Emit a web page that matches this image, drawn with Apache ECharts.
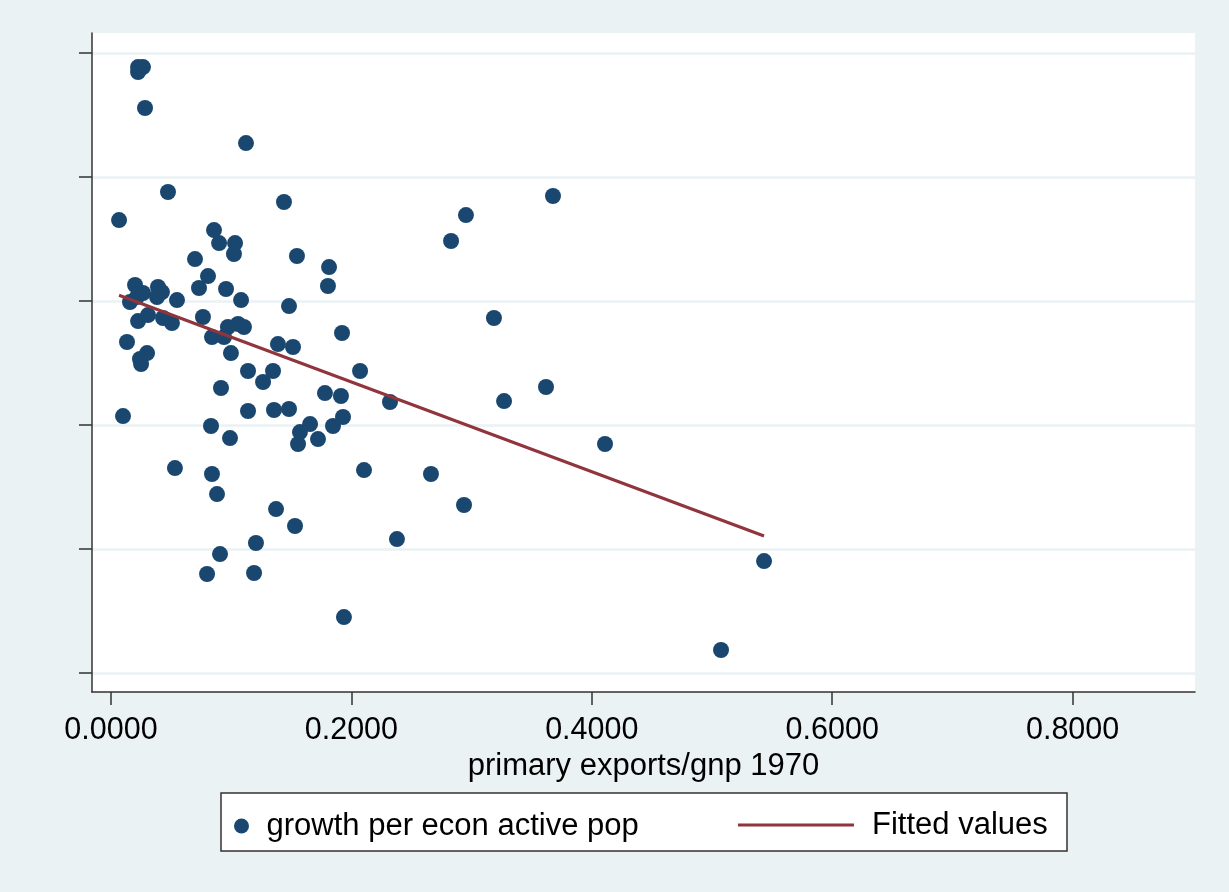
<!DOCTYPE html>
<html>
<head>
<meta charset="utf-8">
<script src="https://cdn.jsdelivr.net/npm/echarts@6/dist/echarts.min.js"></script>
<style>
  html, body { margin: 0; padding: 0; background: #eaf2f3; }
  #chart { width: 1229px; height: 892px; }
</style>
</head>
<body>
<div id="chart"></div>
<script>
// Primary exports as a share of GNP, 1970 (one entry per country)
const primaryExports = [
  0.0067, 0.0100, 0.0133, 0.0158, 0.0200, 0.0216, 0.0225, 0.0225, 0.0266, 0.0225,
  0.0283, 0.0241, 0.0250, 0.0300, 0.0266, 0.0308, 0.0391, 0.0424, 0.0383, 0.0433,
  0.0507, 0.0474, 0.0549, 0.0532, 0.0699, 0.0732, 0.0765, 0.0807, 0.0832, 0.0840,
  0.0840, 0.0857, 0.0882, 0.0899, 0.0915, 0.0907, 0.0799, 0.0940, 0.0957, 0.0973,
  0.0990, 0.0998, 0.1032, 0.1023, 0.1057, 0.1082, 0.1106, 0.1123, 0.1140, 0.1140,
  0.1206, 0.1190, 0.1265, 0.1348, 0.1356, 0.1373, 0.1389, 0.1439, 0.1481, 0.1481,
  0.1514, 0.1531, 0.1547, 0.1572, 0.1556, 0.1656, 0.1722, 0.1780, 0.1814, 0.1805,
  0.1847, 0.1913, 0.1922, 0.1930, 0.1938, 0.2072, 0.2105, 0.2321, 0.2379, 0.2662,
  0.2829, 0.2937, 0.2953, 0.3186, 0.3270, 0.3619, 0.3677, 0.4110, 0.5075, 0.5433
];

// Growth per economically active population (same country order)
const growthPerActive = [
  3.306, 0.145, 1.339, 1.984, 2.258, 2.065, 1.677, 5.774, 5.774, 5.694,
  5.113, 1.065, 0.984, 1.161, 2.129, 1.774, 2.226, 2.145, 2.065, 1.726,
  1.645, 3.758, 2.016, -0.694, 2.677, 2.210, 1.742, 2.403, -0.016, 1.419,
  -0.790, 3.145, -1.113, 2.935, 0.597, -2.081, -2.403, 1.419, 2.194, 1.581,
  -0.210, 1.161, 2.935, 2.758, 1.629, 2.016, 1.581, 4.548, 0.871, 0.226,
  -1.903, -2.387, 0.694, 0.871, 0.242, -1.355, 1.306, 3.597, 1.919, 0.258,
  1.258, -1.629, 2.726, -0.113, -0.306, 0.016, -0.226, 0.516, 2.548, 2.242,
  -0.016, 0.468, 1.484, 0.129, -3.097, 0.871, -0.726, 0.371, -1.839, -0.790,
  2.968, -1.290, 3.387, 1.726, 0.387, 0.613, 3.694, -0.306, -3.629, -2.194
];

// Least-squares fit, evaluated at the smallest and largest export share
const fitX = [0.0067, 0.5433];
const fitY = [2.093, -1.790];

// Axis tick positions
const xTicks = [0, 0.2, 0.4, 0.6, 0.8];
const yTicks = [-4, -2, 0, 2, 4, 6];

const seriesNames = ['growth per econ active pop', 'Fitted values'];

const scatterData = primaryExports.map((x, i) => [x, growthPerActive[i]]);
const fitData = fitX.map((x, i) => [x, fitY[i]]);

const FONT = '"Liberation Sans", Arial, Helvetica, sans-serif';
const NAVY = '#1a476f';
const MAROON = '#90353b';
const AXIS = '#333333';

const chart = echarts.init(document.getElementById('chart'), null, { renderer: 'canvas' });

chart.setOption({
  animation: false,
  backgroundColor: '#eaf2f3',
  textStyle: { fontFamily: FONT },
  grid: {
    left: 92, right: 34, top: 33, bottom: 200,
    show: true, backgroundColor: '#ffffff', borderWidth: 0
  },
  xAxis: {
    type: 'value',
    min: -0.01581, max: 0.90183,
    name: 'primary exports/gnp 1970',
    nameLocation: 'middle',
    nameGap: 67,
    nameTextStyle: { fontFamily: FONT, fontSize: 31, color: '#000', verticalAlign: 'middle', lineHeight: 31 },
    axisLine: { show: true, onZero: false, lineStyle: { color: AXIS, width: 1.5 } },
    axisTick: { show: true, length: 13, customValues: xTicks, lineStyle: { color: AXIS, width: 1.5 } },
    axisLabel: {
      customValues: xTicks,
      margin: 39,
      fontFamily: FONT, fontSize: 30.5, color: '#000',
      verticalAlign: 'middle', lineHeight: 30,
      formatter: v => v.toFixed(4)
    },
    splitLine: { show: false }
  },
  yAxis: {
    type: 'value',
    min: -4.306, max: 6.323,
    axisLine: { show: true, onZero: false, lineStyle: { color: AXIS, width: 1.5 } },
    axisTick: { show: true, length: 13, customValues: yTicks, lineStyle: { color: AXIS, width: 1.5 } },
    axisLabel: { show: false, customValues: yTicks },
    splitLine: { show: true, customValues: yTicks, lineStyle: { color: '#eaf2f3', width: 2.5 } }
  },
  graphic: [{
    type: 'rect',
    shape: { x: 221, y: 793, width: 846, height: 58 },
    style: { fill: '#ffffff', stroke: AXIS, lineWidth: 1.5 },
    z: 1
  }],
  legend: [{
    data: [seriesNames[0]],
    left: 234, top: 809, padding: 0,
    icon: 'circle', itemWidth: 40, itemHeight: 15,
    textStyle: { fontFamily: FONT, fontSize: 31, color: '#000', lineHeight: 34 },
    selectedMode: false
  }, {
    data: [seriesNames[1]],
    left: 738, top: 808, padding: 0,
    icon: 'rect', itemWidth: 116, itemHeight: 3,
    textStyle: { fontFamily: FONT, fontSize: 31, color: '#000', lineHeight: 34, padding: [0, 0, 0, 13] },
    selectedMode: false
  }],
  series: [{
    name: seriesNames[0],
    type: 'scatter',
    data: scatterData,
    symbol: 'circle',
    symbolSize: 16,
    itemStyle: { color: NAVY, opacity: 1 },
    z: 2
  }, {
    name: seriesNames[1],
    type: 'line',
    data: fitData,
    showSymbol: false,
    symbol: 'none',
    lineStyle: { color: MAROON, width: 3 },
    itemStyle: { color: MAROON },
    z: 3
  }]
});
</script>
</body>
</html>
